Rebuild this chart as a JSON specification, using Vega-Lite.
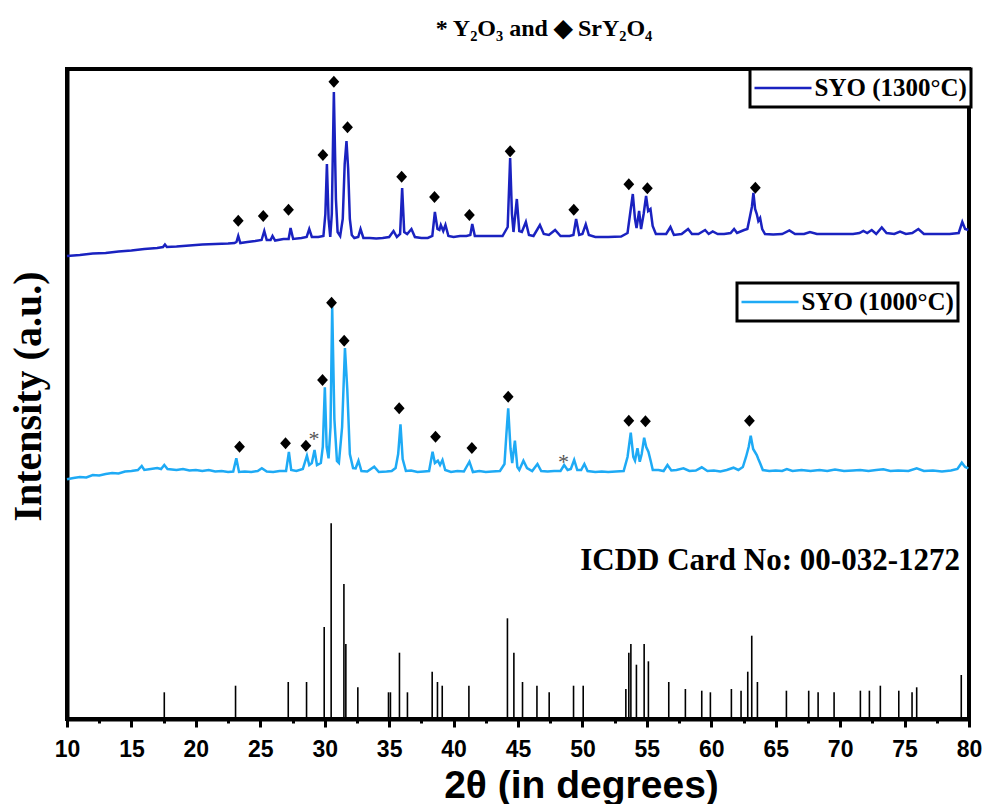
{
  "$schema": "https://vega.github.io/schema/vega-lite/v6.json",
  "width": 902,
  "height": 650,
  "autosize": "none",
  "padding": {"left": 67, "top": 69, "right": 18, "bottom": 85},
  "background": "white",
  "config": {
    "view": {"stroke": "black", "strokeWidth": 4},
    "font": "Liberation Serif",
    "legend": {"strokeColor": "black", "strokeWidth": 3, "fillColor": "white", "padding": 4, "labelLimit": 300}
  },
  "title": {
    "text": "* Y₂O₃ and ◆ SrY₂O₄",
    "font": "Liberation Serif",
    "fontSize": 24,
    "fontWeight": "bold",
    "color": "black",
    "anchor": "middle",
    "dx": 26,
    "offset": 27
  },
  "datasets": {
    "c1300": [
      {"t":10.0,"i":463},{"t":11.0,"i":464},{"t":12.0,"i":465.5},{"t":13.0,"i":466},{"t":14.0,"i":467.5},{"t":15.0,"i":468.5},{"t":16.0,"i":470},{"t":17.0,"i":471},{"t":17.45,"i":472},{"t":17.6,"i":474.5},{"t":17.75,"i":472},{"t":18.5,"i":472.5},{"t":19.5,"i":473.5},{"t":20.5,"i":474.5},{"t":21.5,"i":475},{"t":22.5,"i":475.5},{"t":23.0,"i":476},{"t":23.15,"i":477},{"t":23.29,"i":483},{"t":23.45,"i":476},{"t":24.0,"i":477},{"t":24.6,"i":478},{"t":25.1,"i":479},{"t":25.31,"i":488},{"t":25.5,"i":479},{"t":25.8,"i":479},{"t":25.95,"i":483},{"t":26.15,"i":478.5},{"t":26.8,"i":480},{"t":27.2,"i":480},{"t":27.35,"i":491},{"t":27.55,"i":480},{"t":28.2,"i":481},{"t":28.6,"i":482},{"t":28.8,"i":490},{"t":29.0,"i":482},{"t":29.5,"i":482},{"t":29.9,"i":483},{"t":30.05,"i":505},{"t":30.17,"i":555},{"t":30.3,"i":500},{"t":30.43,"i":482},{"t":30.55,"i":505},{"t":30.71,"i":627},{"t":30.87,"i":520},{"t":31.0,"i":487},{"t":31.2,"i":483},{"t":31.4,"i":500},{"t":31.55,"i":555},{"t":31.69,"i":578},{"t":31.82,"i":550},{"t":31.95,"i":500},{"t":32.1,"i":484},{"t":32.3,"i":481},{"t":32.6,"i":482},{"t":32.78,"i":490},{"t":33.0,"i":481},{"t":33.5,"i":481},{"t":34.0,"i":480.5},{"t":34.5,"i":481},{"t":35.0,"i":482},{"t":35.34,"i":488},{"t":35.6,"i":482},{"t":35.85,"i":485},{"t":36.01,"i":531},{"t":36.17,"i":487},{"t":36.4,"i":485},{"t":36.73,"i":490},{"t":37.0,"i":482},{"t":37.5,"i":481},{"t":38.0,"i":481},{"t":38.35,"i":483},{"t":38.55,"i":507},{"t":38.75,"i":490},{"t":38.9,"i":489},{"t":39.01,"i":494},{"t":39.2,"i":488},{"t":39.37,"i":494},{"t":39.6,"i":483},{"t":40.0,"i":482},{"t":40.5,"i":483},{"t":41.0,"i":483},{"t":41.3,"i":484},{"t":41.45,"i":495},{"t":41.65,"i":483},{"t":42.0,"i":483},{"t":43.0,"i":483},{"t":43.8,"i":483},{"t":44.2,"i":492},{"t":44.39,"i":561},{"t":44.53,"i":505},{"t":44.65,"i":487},{"t":44.91,"i":520},{"t":45.1,"i":488},{"t":45.3,"i":487},{"t":45.61,"i":497},{"t":45.85,"i":484},{"t":46.2,"i":483},{"t":46.7,"i":494},{"t":47.0,"i":485},{"t":47.4,"i":484},{"t":47.88,"i":489},{"t":48.3,"i":483},{"t":49.0,"i":483},{"t":49.3,"i":484},{"t":49.51,"i":500},{"t":49.75,"i":484},{"t":50.0,"i":485},{"t":50.26,"i":494.7},{"t":50.5,"i":484},{"t":51.0,"i":482},{"t":52.0,"i":482},{"t":53.0,"i":482.5},{"t":53.5,"i":486},{"t":53.75,"i":510},{"t":53.91,"i":525},{"t":54.08,"i":500},{"t":54.2,"i":491},{"t":54.4,"i":508},{"t":54.55,"i":490},{"t":54.75,"i":505},{"t":54.94,"i":523},{"t":55.1,"i":508},{"t":55.28,"i":510},{"t":55.45,"i":493},{"t":55.7,"i":485},{"t":56.2,"i":485},{"t":56.5,"i":485},{"t":56.83,"i":492},{"t":57.1,"i":484},{"t":57.7,"i":485},{"t":58.2,"i":490},{"t":58.5,"i":485},{"t":59.0,"i":485},{"t":59.52,"i":489},{"t":59.8,"i":485},{"t":60.11,"i":487.5},{"t":60.5,"i":485},{"t":61.0,"i":485},{"t":61.5,"i":486},{"t":61.77,"i":490},{"t":62.0,"i":486},{"t":62.55,"i":489},{"t":62.8,"i":490},{"t":63.01,"i":503},{"t":63.15,"i":512},{"t":63.27,"i":526},{"t":63.4,"i":510},{"t":63.53,"i":505},{"t":63.65,"i":498},{"t":63.79,"i":501},{"t":63.95,"i":490},{"t":64.17,"i":485},{"t":64.8,"i":484.5},{"t":65.5,"i":485},{"t":66.06,"i":488.5},{"t":66.5,"i":485},{"t":67.2,"i":485},{"t":67.66,"i":487},{"t":68.2,"i":485},{"t":69.0,"i":485},{"t":70.0,"i":485},{"t":71.0,"i":485},{"t":71.5,"i":486},{"t":71.8,"i":488},{"t":72.1,"i":486},{"t":72.45,"i":489},{"t":72.8,"i":485},{"t":73.23,"i":491.5},{"t":73.6,"i":486},{"t":74.2,"i":485},{"t":74.65,"i":487.5},{"t":75.1,"i":485},{"t":75.6,"i":486},{"t":76.07,"i":490},{"t":76.5,"i":485},{"t":77.5,"i":485},{"t":78.5,"i":485},{"t":79.2,"i":486},{"t":79.48,"i":497},{"t":79.7,"i":490},{"t":79.95,"i":489}
    ],
    "c1000": [
      {"t":10.0,"i":239.7},{"t":10.5,"i":241},{"t":11.0,"i":242},{"t":11.5,"i":241.5},{"t":12.0,"i":244},{"t":12.5,"i":243.5},{"t":13.0,"i":245},{"t":13.5,"i":246},{"t":14.0,"i":245.5},{"t":14.5,"i":247.5},{"t":15.0,"i":248},{"t":15.5,"i":249},{"t":15.8,"i":253},{"t":16.0,"i":249},{"t":16.5,"i":250},{"t":17.0,"i":251},{"t":17.3,"i":250},{"t":17.55,"i":254},{"t":17.8,"i":250},{"t":18.5,"i":249},{"t":19.0,"i":250},{"t":19.5,"i":248.5},{"t":20.0,"i":249},{"t":20.5,"i":248},{"t":21.0,"i":249},{"t":21.5,"i":247.5},{"t":22.0,"i":248},{"t":22.5,"i":247},{"t":22.9,"i":247.5},{"t":23.14,"i":260.7},{"t":23.35,"i":247},{"t":23.8,"i":247.5},{"t":24.3,"i":247},{"t":24.8,"i":248},{"t":25.12,"i":250.7},{"t":25.5,"i":247.5},{"t":26.0,"i":247},{"t":26.5,"i":248},{"t":27.0,"i":248},{"t":27.22,"i":267},{"t":27.4,"i":249},{"t":27.8,"i":248},{"t":28.3,"i":250},{"t":28.62,"i":263.3},{"t":28.8,"i":254},{"t":29.0,"i":256},{"t":29.21,"i":269},{"t":29.4,"i":254},{"t":29.7,"i":256},{"t":29.85,"i":272},{"t":30.01,"i":331.7},{"t":30.15,"i":272},{"t":30.3,"i":260.7},{"t":30.45,"i":292},{"t":30.58,"i":412},{"t":30.75,"i":300},{"t":30.95,"i":258},{"t":31.1,"i":256},{"t":31.35,"i":292},{"t":31.57,"i":371},{"t":31.75,"i":330},{"t":31.95,"i":265},{"t":32.2,"i":251},{"t":32.4,"i":250.7},{"t":32.62,"i":258.3},{"t":32.85,"i":248},{"t":33.3,"i":247.5},{"t":33.84,"i":252.3},{"t":34.2,"i":247},{"t":34.8,"i":247.5},{"t":35.2,"i":248},{"t":35.5,"i":251},{"t":35.7,"i":265},{"t":35.88,"i":294.7},{"t":36.05,"i":260},{"t":36.3,"i":248},{"t":36.7,"i":248.5},{"t":37.2,"i":247},{"t":37.7,"i":247.5},{"t":38.1,"i":248},{"t":38.37,"i":267.3},{"t":38.55,"i":256},{"t":38.78,"i":258.3},{"t":38.95,"i":254},{"t":39.14,"i":259},{"t":39.35,"i":249},{"t":39.8,"i":247},{"t":40.3,"i":248},{"t":40.8,"i":247.5},{"t":41.23,"i":257.3},{"t":41.5,"i":247},{"t":42.0,"i":248},{"t":42.5,"i":247},{"t":43.0,"i":247.5},{"t":43.6,"i":248},{"t":43.95,"i":255},{"t":44.1,"i":285},{"t":44.24,"i":310.7},{"t":44.42,"i":270},{"t":44.55,"i":256},{"t":44.76,"i":278.3},{"t":44.95,"i":252},{"t":45.1,"i":249},{"t":45.42,"i":258.3},{"t":45.7,"i":251},{"t":46.1,"i":248},{"t":46.51,"i":255},{"t":46.8,"i":248},{"t":47.3,"i":247.5},{"t":47.8,"i":248},{"t":48.3,"i":248},{"t":48.58,"i":254},{"t":48.85,"i":249},{"t":49.1,"i":250},{"t":49.36,"i":259},{"t":49.6,"i":249},{"t":49.9,"i":249},{"t":50.15,"i":255},{"t":50.4,"i":248},{"t":51.0,"i":247},{"t":51.5,"i":247.5},{"t":52.0,"i":247},{"t":52.6,"i":247.5},{"t":53.2,"i":248},{"t":53.5,"i":262},{"t":53.75,"i":286.3},{"t":53.95,"i":262},{"t":54.08,"i":258.3},{"t":54.27,"i":270.7},{"t":54.45,"i":257.3},{"t":54.6,"i":265},{"t":54.79,"i":281.3},{"t":54.95,"i":272},{"t":55.12,"i":267.3},{"t":55.3,"i":258},{"t":55.46,"i":249},{"t":55.9,"i":249},{"t":56.3,"i":248},{"t":56.6,"i":254},{"t":56.9,"i":248.5},{"t":57.3,"i":249},{"t":57.84,"i":250.7},{"t":58.3,"i":248},{"t":58.8,"i":248.5},{"t":59.26,"i":251.7},{"t":59.7,"i":248},{"t":60.2,"i":248.5},{"t":60.7,"i":247.5},{"t":61.2,"i":249},{"t":61.72,"i":251.3},{"t":62.1,"i":249},{"t":62.45,"i":252},{"t":62.7,"i":262.3},{"t":62.9,"i":272},{"t":63.06,"i":283.3},{"t":63.25,"i":270},{"t":63.53,"i":264},{"t":63.65,"i":260},{"t":63.79,"i":255.7},{"t":64.0,"i":249},{"t":64.5,"i":248},{"t":65.0,"i":248.5},{"t":65.5,"i":248},{"t":65.86,"i":250},{"t":66.3,"i":248},{"t":67.0,"i":249},{"t":67.7,"i":248},{"t":68.4,"i":249},{"t":69.0,"i":248},{"t":69.6,"i":249.5},{"t":70.3,"i":248},{"t":71.0,"i":248.5},{"t":71.55,"i":249},{"t":72.2,"i":248},{"t":72.8,"i":249},{"t":73.35,"i":249.7},{"t":73.9,"i":248},{"t":74.5,"i":248.5},{"t":75.3,"i":248},{"t":75.94,"i":250.7},{"t":76.5,"i":248},{"t":77.2,"i":248.5},{"t":77.9,"i":247.5},{"t":78.6,"i":248.5},{"t":79.1,"i":250},{"t":79.44,"i":256.3},{"t":79.7,"i":252},{"t":79.95,"i":250.7}
    ],
    "icdd": [
      {"t":17.55,"i":26.7},{"t":23.08,"i":33.3},{"t":27.17,"i":37},{"t":28.59,"i":37},{"t":29.96,"i":92},{"t":30.5,"i":195.7},{"t":31.49,"i":135},{"t":31.64,"i":75},{"t":32.57,"i":31.7},{"t":34.95,"i":26.7},{"t":35.1,"i":26.7},{"t":35.8,"i":66.3},{"t":36.42,"i":26.7},{"t":38.34,"i":47.3},{"t":38.75,"i":37},{"t":39.12,"i":33.3},{"t":41.19,"i":33.3},{"t":44.18,"i":100.7},{"t":44.68,"i":66.3},{"t":45.35,"i":37},{"t":46.47,"i":33.3},{"t":47.42,"i":26.7},{"t":49.31,"i":33.3},{"t":50.06,"i":33.3},{"t":53.37,"i":30},{"t":53.6,"i":66.3},{"t":53.76,"i":75},{"t":54.19,"i":54.3},{"t":54.79,"i":75},{"t":55.12,"i":57.7},{"t":56.7,"i":37},{"t":57.99,"i":30},{"t":59.26,"i":28.3},{"t":59.93,"i":26.7},{"t":61.56,"i":30},{"t":62.31,"i":28.3},{"t":62.83,"i":47.3},{"t":63.14,"i":83.3},{"t":63.58,"i":37},{"t":65.83,"i":28.3},{"t":67.56,"i":28.3},{"t":68.29,"i":26.7},{"t":69.53,"i":26.7},{"t":71.57,"i":28.3},{"t":72.27,"i":28.3},{"t":73.12,"i":33.3},{"t":74.55,"i":28.3},{"t":75.58,"i":26.7},{"t":75.94,"i":31.7},{"t":79.4,"i":44}
    ],
    "diamonds": [
      {"t":23.29,"i":498.3},{"t":25.23,"i":503},{"t":27.19,"i":509.3},{"t":29.86,"i":564},{"t":30.71,"i":637.3},{"t":31.77,"i":591.7},{"t":35.97,"i":542.3},{"t":38.52,"i":522},{"t":41.23,"i":504},{"t":44.39,"i":567.7},{"t":49.33,"i":509.3},{"t":53.6,"i":534.7},{"t":55.04,"i":530.7},{"t":63.42,"i":531.3},
      {"t":23.39,"i":272.3},{"t":26.96,"i":275.7},{"t":28.54,"i":273.3},{"t":29.83,"i":339},{"t":30.53,"i":416.3},{"t":31.51,"i":378.3},{"t":35.78,"i":310.7},{"t":38.6,"i":282.3},{"t":41.42,"i":271},{"t":44.24,"i":322.3},{"t":53.6,"i":298.3},{"t":54.89,"i":297.7},{"t":62.96,"i":298.3}
    ],
    "stars": [
      {"t":29.16,"i":285},{"t":48.53,"i":261.7}
    ],
    "notes": [
      {"t":79.3,"i":149,"label":"ICDD Card No: 00-032-1272"}
    ]
  },
  "encoding": {
    "x": {
      "field": "t", "type": "quantitative",
      "scale": {"domain": [10, 80], "nice": false, "zero": false},
      "axis": {
        "title": "2θ (in degrees)",
        "titleFont": "Liberation Sans", "titleFontSize": 39, "titleFontWeight": "bold", "titleColor": "black",
        "titleX": 514, "titleY": 78, "titleAlign": "center", "titleBaseline": "alphabetic",
        "values": [10,12.5,15,17.5,20,22.5,25,27.5,30,32.5,35,37.5,40,42.5,45,47.5,50,52.5,55,57.5,60,62.5,65,67.5,70,72.5,75,77.5,80],
        "labelExpr": "datum.value % 5 === 0 ? datum.label : ''",
        "labelFont": "Liberation Sans", "labelFontSize": 23, "labelFontWeight": "bold", "labelColor": "black",
        "labelPadding": 11, "labelFlush": false, "labelOverlap": false,
        "tickSize": {"condition": {"test": "datum.value % 5 === 0", "value": 8}, "value": 4},
        "tickWidth": 3, "tickColor": "black",
        "domainColor": "black", "domainWidth": 4, "grid": false
      }
    },
    "y": {
      "field": "i", "type": "quantitative",
      "scale": {"domain": [0, 650], "nice": false, "zero": false},
      "axis": {
        "title": "Intensity (a.u.)",
        "titleFont": "Liberation Serif", "titleFontSize": 40, "titleFontWeight": "bold", "titleColor": "black",
        "titleAngle": -90, "titleX": -27, "titleY": 327, "titleAlign": "center", "titleBaseline": "alphabetic",
        "labels": false, "ticks": false, "grid": false,
        "domainColor": "black", "domainWidth": 4
      }
    }
  },
  "layer": [
    {
      "data": {"name": "icdd"},
      "mark": {"type": "rule", "color": "black", "strokeWidth": 1.6},
      "encoding": {"y2": {"datum": 0}}
    },
    {
      "data": {"name": "c1000"},
      "mark": {"type": "line", "strokeWidth": 2.5, "interpolate": "linear"},
      "encoding": {
        "color": {
          "datum": "SYO (1000°C)", "type": "nominal",
          "scale": {"domain": ["SYO (1000°C)"], "range": ["#1eaaf5"]},
          "legend": {
            "orient": "none", "legendX": 670, "legendY": 214, "title": null,
            "symbolType": "M-4.75,0L4.75,0", "symbolSize": 144, "symbolStrokeWidth": 2.5,
            "symbolOffset": 16.5, "labelOffset": 19,
            "labelExpr": "datum.label + '\u2002'",
            "labelFont": "Liberation Serif", "labelFontSize": 25, "labelFontWeight": "bold", "labelColor": "black",
            "clipHeight": 30
          }
        }
      }
    },
    {
      "data": {"name": "c1300"},
      "mark": {"type": "line", "strokeWidth": 2.5, "interpolate": "linear"},
      "encoding": {
        "color": {
          "datum": "SYO (1300°C)", "type": "nominal",
          "scale": {"domain": ["SYO (1300°C)"], "range": ["#1a22c0"]},
          "legend": {
            "orient": "none", "legendX": 683, "legendY": 0, "title": null,
            "symbolType": "M-4.75,0L4.75,0", "symbolSize": 144, "symbolStrokeWidth": 2.5,
            "symbolOffset": 16.5, "labelOffset": 19,
            "labelFont": "Liberation Serif", "labelFontSize": 25, "labelFontWeight": "bold", "labelColor": "black",
            "clipHeight": 30
          }
        }
      }
    },
    {
      "data": {"name": "diamonds"},
      "mark": {"type": "point", "shape": "M0,-1L0.9,0L0,1L-0.9,0Z", "size": 144, "filled": true, "color": "black", "opacity": 1, "strokeWidth": 0}
    },
    {
      "data": {"name": "stars"},
      "mark": {"type": "text", "text": "*", "font": "Liberation Serif", "fontSize": 22, "color": "#555555", "align": "center", "baseline": "alphabetic", "dy": 12}
    },
    {
      "data": {"name": "notes"},
      "mark": {"type": "text", "font": "Liberation Serif", "fontSize": 31, "fontWeight": "bold", "color": "black", "align": "right", "baseline": "alphabetic"},
      "encoding": {"text": {"field": "label"}}
    }
  ],
  "resolve": {"scale": {"color": "independent"}}
}
